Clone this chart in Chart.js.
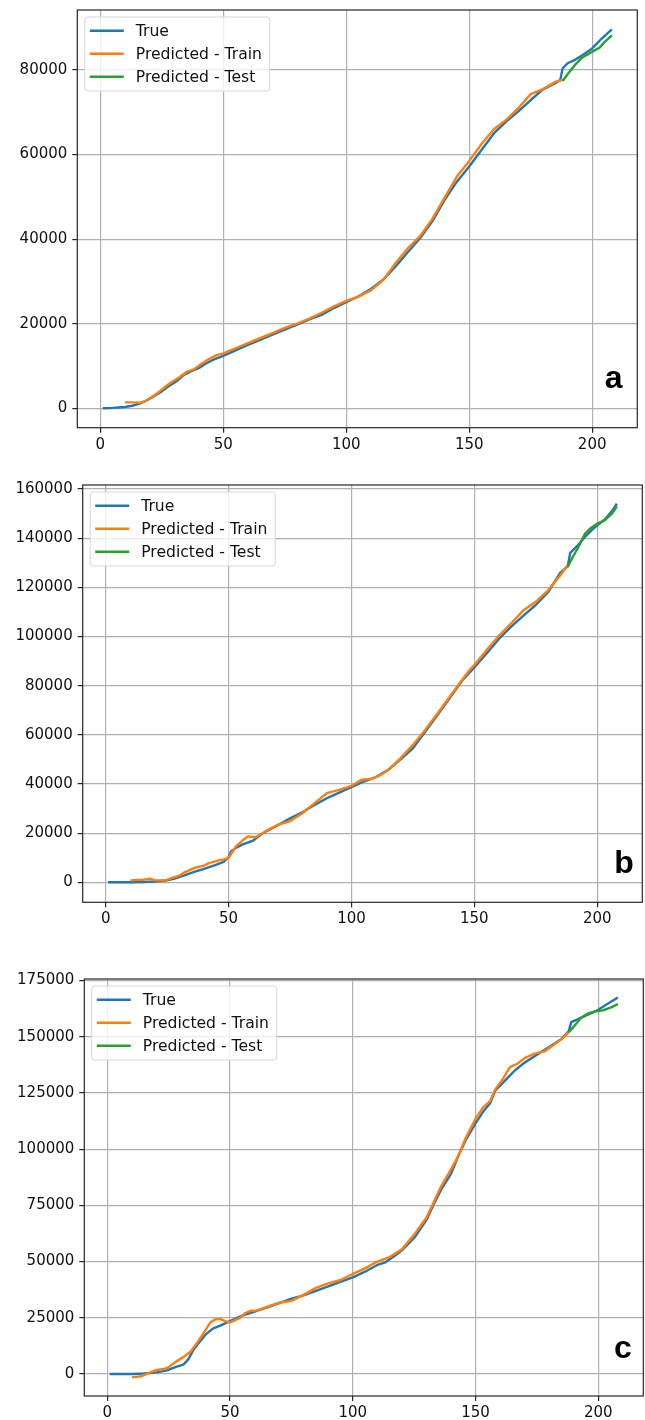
<!DOCTYPE html>
<html>
<head>
<meta charset="utf-8">
<script src="https://cdn.jsdelivr.net/npm/chart.js@4.4.0/dist/chart.umd.min.js"></script>
<style>
    body { margin: 0; background: #fff; width: 645px; height: 1420px; position: relative; overflow: hidden; }
    canvas { position: absolute; left: 0; }
</style>
</head>
<body>
<canvas id="chartA" width="645" height="460" style="top:0px"></canvas>
<canvas id="chartB" width="645" height="465" style="top:470px"></canvas>
<canvas id="chartC" width="645" height="460" style="top:960px"></canvas>
<script>
var names = [`True`, `Predicted - Train`, `Predicted - Test`];
var colors = [`#1f77b4`, `#ff7f0e`, `#2ca02c`];
var xTicks = [0, 50, 100, 150, 200];

// painel a
var aTrueDays = [1, 5, 10, 13, 16, 19, 22, 25, 28, 31, 34, 37, 40, 43, 46, 50, 55, 60, 65, 70, 75, 80, 85, 90, 95, 100, 105, 110, 115, 120, 125, 130, 135, 140, 145, 150, 155, 160, 165, 170, 175, 180, 185, 187, 188, 190, 193, 196, 200, 204, 208];
var aTrue = [0, 100, 300, 600, 1100, 1900, 2900, 4000, 5300, 6400, 7900, 8800, 9500, 10600, 11500, 12400, 13700, 15000, 16200, 17400, 18600, 19800, 21000, 22100, 23700, 25100, 26500, 28200, 30400, 33500, 36900, 40200, 44200, 49300, 53600, 57200, 61100, 65000, 67800, 70200, 72900, 75400, 76900, 77600, 80400, 81600, 82400, 83500, 85100, 87500, 89600];
var aTrainDays = [10, 13, 16, 18, 20, 23, 26, 29, 32, 35, 38, 41, 44, 47, 50, 55, 60, 65, 70, 75, 80, 85, 90, 95, 100, 105, 110, 115, 120, 125, 130, 135, 140, 145, 150, 155, 160, 165, 170, 175, 180, 185, 188];
var aTrain = [1400, 1400, 1300, 1600, 2300, 3500, 4900, 6200, 7300, 8600, 9200, 10500, 11600, 12500, 13000, 14200, 15400, 16600, 17800, 19000, 20000, 21200, 22600, 24100, 25400, 26400, 27900, 30300, 34300, 37800, 40700, 44800, 49800, 54800, 58500, 62500, 66000, 68200, 71000, 74300, 75500, 77200, 77700];
var aTestDays = [188, 190, 193, 196, 198, 200, 203, 205, 208];
var aTest = [77400, 79000, 81200, 83000, 83600, 84300, 85300, 86600, 88200];
var aYTicks = [0, 20000, 40000, 60000, 80000];

// painel b
var bTrueDays = [1, 10, 15, 20, 24, 28, 32, 36, 40, 44, 48, 50, 51, 53, 56, 60, 64, 70, 75, 80, 85, 90, 95, 100, 105, 110, 115, 120, 125, 130, 135, 140, 145, 150, 155, 160, 165, 170, 175, 180, 185, 188, 189, 192, 195, 198, 200, 203, 206, 208];
var bTrue = [0, 0, 100, 300, 600, 1500, 2800, 4200, 5500, 6800, 8300, 10200, 12500, 14000, 15500, 17000, 20000, 23200, 26000, 28500, 31500, 34200, 36500, 38700, 41000, 42800, 45800, 50000, 54500, 61200, 68000, 75000, 82000, 87400, 93100, 99000, 104000, 108500, 112800, 118000, 126000, 128500, 134000, 137000, 140500, 143500, 145200, 147500, 151000, 154000];
var bTrainDays = [10, 12, 15, 18, 20, 24, 27, 30, 32, 36, 40, 42, 46, 49, 50, 53, 56, 58, 61, 65, 70, 75, 80, 85, 90, 95, 100, 104, 108, 112, 115, 120, 125, 130, 135, 140, 145, 148, 150, 155, 160, 165, 170, 175, 180, 185, 188];
var bTrain = [700, 1000, 1000, 1500, 800, 700, 1800, 2700, 4000, 5800, 6800, 7800, 8900, 9500, 9900, 14600, 17300, 18700, 18300, 20700, 23400, 24800, 28100, 32200, 36300, 37600, 39200, 41700, 42000, 43700, 45700, 50500, 55900, 62000, 68700, 75500, 82300, 86300, 88400, 94500, 100300, 105300, 110700, 114100, 118800, 124900, 129000];
var bTestDays = [188, 190, 192, 195, 197, 200, 203, 206, 208];
var bTest = [128300, 132300, 135700, 141800, 143800, 145900, 147200, 150000, 152900];
var bYTicks = [0, 20000, 40000, 60000, 80000, 100000, 120000, 140000, 160000];

// painel c
var cTrueDays = [1, 10, 15, 20, 24, 28, 31, 33, 35, 37, 40, 43, 46, 50, 55, 60, 65, 70, 75, 80, 85, 90, 95, 100, 105, 110, 113, 117, 120, 125, 130, 133, 136, 140, 143, 146, 150, 153, 156, 158, 162, 166, 170, 175, 180, 185, 188, 189, 192, 196, 200, 204, 208];
var cTrue = [0, 0, 200, 700, 1500, 3200, 4200, 6500, 10500, 13500, 17500, 20200, 21500, 23500, 26000, 27800, 29500, 31500, 33500, 35000, 37000, 39000, 41000, 43000, 45500, 48500, 49500, 52500, 55000, 60500, 68500, 75500, 82000, 89000, 97000, 104000, 111500, 116500, 120500, 126000, 130500, 135000, 138500, 142000, 145500, 149000, 152500, 156500, 158000, 160000, 162000, 164800, 167500];
var cTrainDays = [10, 14, 17, 20, 23, 25, 28, 31, 34, 37, 40, 42, 44, 46, 48, 50, 52, 54, 56, 58, 61, 65, 70, 75, 80, 85, 90, 95, 100, 105, 110, 115, 120, 125, 130, 133, 136, 140, 143, 146, 150, 153, 156, 158, 161, 164, 167, 170, 174, 178, 182, 185, 188];
var cTrain = [-1500, -1000, 500, 1800, 2200, 3000, 5500, 7500, 10000, 14500, 19500, 23000, 24300, 24500, 23500, 23000, 24000, 24800, 27000, 28000, 28300, 29800, 31700, 32500, 35200, 38300, 40300, 41800, 44500, 47000, 50000, 52000, 55500, 62000, 69500, 76500, 83500, 91000, 97000, 105000, 113500, 118500, 121500, 126500, 131000, 136500, 138000, 140500, 142500, 143500, 146500, 149000, 152000];
var cTestDays = [188, 190, 193, 196, 199, 202, 205, 208];
var cTest = [152000, 154500, 158500, 160500, 161300, 161800, 163000, 164500];
var cYTicks = [0, 25000, 50000, 75000, 100000, 125000, 150000, 175000];

function pairs(xs, ys) {
    var out = [];
    for (var i = 0; i < xs.length; i++) {
        out.push({ x: xs[i], y: ys[i] });
    }
    return out;
}

var tickFont = { family: `DejaVu Sans`, size: 15 };

var framePlugin = {
    id: `frame`,
    afterDatasetsDraw: function (chart, args, opts) {
        var ctx = chart.ctx;
        var a = chart.chartArea;
        ctx.save();
        ctx.strokeStyle = `#262626`;
        ctx.lineWidth = 1.2;
        ctx.strokeRect(a.left, a.top, a.right - a.left, a.bottom - a.top);

        // letra do painel
        ctx.fillStyle = `#000`;
        ctx.font = `bold 32px "Liberation Sans"`;
        ctx.textAlign = `center`;
        ctx.textBaseline = `alphabetic`;
        ctx.fillText(opts.letter, a.right + opts.dx, a.bottom + opts.dy);

        // legenda
        var lx = a.left + 7.5, ly = a.top + 7, w = 185, h = 74, r = 3;
        ctx.beginPath();
        ctx.moveTo(lx + r, ly);
        ctx.arcTo(lx + w, ly, lx + w, ly + h, r);
        ctx.arcTo(lx + w, ly + h, lx, ly + h, r);
        ctx.arcTo(lx, ly + h, lx, ly, r);
        ctx.arcTo(lx, ly, lx + w, ly, r);
        ctx.closePath();
        ctx.fillStyle = `rgba(255,255,255,0.8)`;
        ctx.fill();
        ctx.strokeStyle = `#d6d6d6`;
        ctx.lineWidth = 1;
        ctx.stroke();

        ctx.font = `15.6px "DejaVu Sans"`;
        ctx.textAlign = `left`;
        ctx.textBaseline = `middle`;
        chart.data.datasets.forEach(function (ds, i) {
            var yy = ly + 13.7 + 23 * i;
            ctx.strokeStyle = ds.borderColor;
            ctx.lineWidth = 2.4;
            ctx.beginPath();
            ctx.moveTo(lx + 5, yy);
            ctx.lineTo(lx + 39, yy);
            ctx.stroke();
            ctx.fillStyle = `#111`;
            ctx.fillText(ds.label, lx + 51, yy + 1);
        });
        ctx.restore();
    }
};

function drawPanel(id, series, yTicks, g) {
    var datasets = [];
    for (var i = 0; i < 3; i++) {
        datasets.push({
            label: names[i],
            data: pairs(series[i][0], series[i][1]),
            borderColor: colors[i],
            backgroundColor: colors[i],
            borderWidth: 2.4,
            pointRadius: 0,
            tension: 0,
            borderJoinStyle: `round`,
            order: 3 - i
        });
    }

    new Chart(document.getElementById(id), {
        type: `line`,
        data: { datasets: datasets },
        options: {
            responsive: false,
            animation: false,
            devicePixelRatio: 1,
            layout: { padding: { top: g.top, right: 645 - g.right, left: 0, bottom: 0 } },
            plugins: {
                legend: { display: false },
                tooltip: { enabled: false },
                frame: { letter: g.letter, dx: g.dx, dy: g.dy }
            },
            scales: {
                x: {
                    type: `linear`,
                    min: -9.35,
                    max: 218.35,
                    afterBuildTicks: function (s) {
                        s.ticks = xTicks.map(function (v) { return { value: v }; });
                    },
                    afterFit: function (s) {
                        s.height = g.height - g.bottom;
                        s.paddingLeft = 0;
                        s.paddingRight = 0;
                    },
                    ticks: {
                        font: tickFont, color: `#111`, padding: 3,
                        maxRotation: 0, autoSkip: false,
                        callback: function (v) { return String(v); }
                    },
                    grid: { color: `#b0b0b0`, lineWidth: 1.2, tickColor: `#262626`, tickLength: 5, tickWidth: 1.2 },
                    border: { display: false }
                },
                y: {
                    type: `linear`,
                    min: g.ymin,
                    max: g.ymax,
                    afterBuildTicks: function (s) {
                        s.ticks = yTicks.map(function (v) { return { value: v }; });
                    },
                    afterFit: function (s) {
                        s.width = g.left;
                        s.paddingTop = 0;
                        s.paddingBottom = 0;
                    },
                    ticks: {
                        font: tickFont, color: `#111`, padding: 5,
                        autoSkip: false,
                        callback: function (v) { return String(v); }
                    },
                    grid: { color: `#b0b0b0`, lineWidth: 1.2, tickColor: `#262626`, tickLength: 5, tickWidth: 1.2 },
                    border: { display: false }
                }
            }
        },
        plugins: [framePlugin]
    });
}

drawPanel(`chartA`, [[aTrueDays, aTrue], [aTrainDays, aTrain], [aTestDays, aTest]], aYTicks,
    { top: 10, bottom: 427.7, left: 77.3, right: 637.3, height: 460, ymin: -4590, ymax: 94190, letter: `a`, dx: -23.7, dy: -39.4 });
drawPanel(`chartB`, [[bTrueDays, bTrue], [bTrainDays, bTrain], [bTestDays, bTest]], bYTicks,
    { top: 15, bottom: 432.3, left: 82.7, right: 642.3, height: 465, ymin: -8140, ymax: 161630, letter: `b`, dx: -18.3, dy: -29 });
drawPanel(`chartC`, [[cTrueDays, cTrue], [cTrainDays, cTrain], [cTestDays, cTest]], cYTicks,
    { top: 19, bottom: 436, left: 84.3, right: 643.3, height: 460, ymin: -9790, ymax: 175700, letter: `c`, dx: -20.3, dy: -38 });
</script>
</body>
</html>
